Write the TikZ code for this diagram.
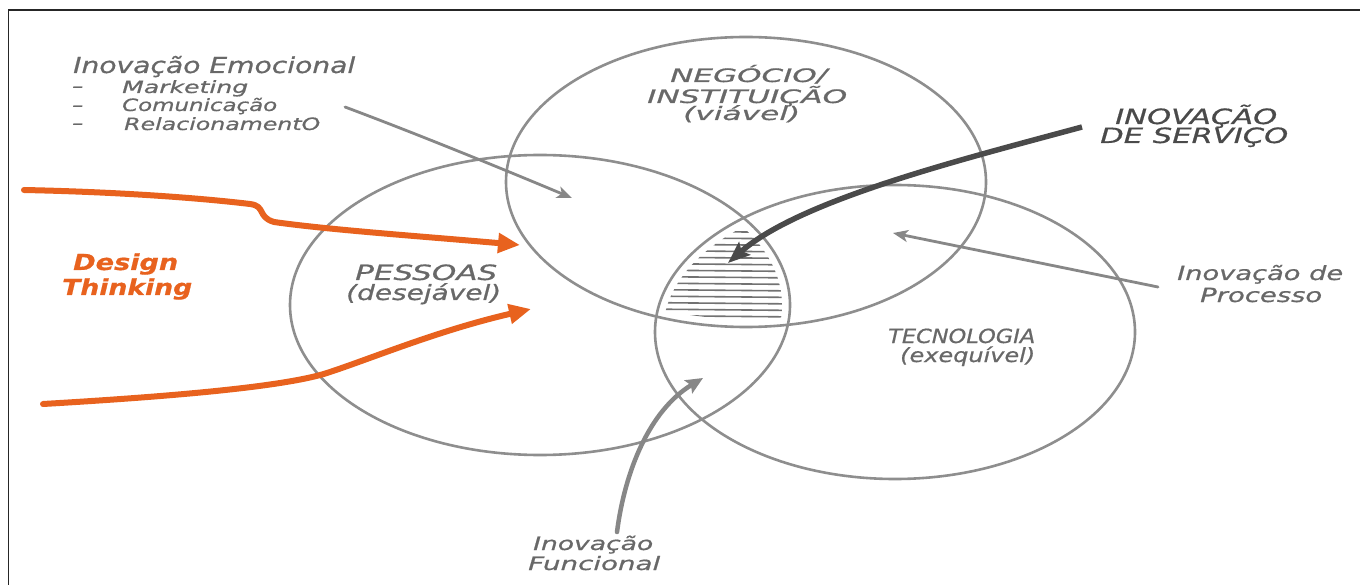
\documentclass[tikz,border=0pt]{standalone}
\usepackage{fontspec}
\usepackage{graphicx}
\setmainfont{DejaVu Sans}
\newfontfamily\handfont[FakeBold=0.6]{DejaVu Sans}
\usetikzlibrary{arrows.meta,shapes.geometric}

\definecolor{ringgray}{HTML}{8E8E8E}
\definecolor{inkgray}{HTML}{686868}
\definecolor{darkink}{HTML}{4A4A4A}
\definecolor{dtorange}{HTML}{E8621E}
\definecolor{hatchgray}{HTML}{727272}

% font size in points, line spacing equal to size
\newcommand{\hs}[1]{\fontsize{#1}{#1}\selectfont}
% stretch a text line horizontally to a given width (pt), height kept
\newcommand{\fitw}[2]{\resizebox{#1pt}{\height}{#2}}

\tikzset{
  lbl/.style={anchor=base west, inner sep=0pt, text=inkgray, font=\handfont\itshape},
  darklbl/.style={lbl, text=darkink},
  dtlbl/.style={lbl, text=dtorange, font=\handfont\itshape\bfseries},
  ring/.style={draw=ringgray, line width=2.6pt, ellipse, inner sep=0pt},
  thinarrow/.style={draw=ringgray!95!black, line width=2.8pt, line cap=round,
    -{Stealth[length=15pt,width=12pt,inset=4pt]}},
  funarrow/.style={draw=ringgray!95!black, line width=4.5pt, line cap=round,
    -{Stealth[length=17pt,width=15pt,inset=3pt]}},
  servarrow/.style={draw=darkink, line width=5.5pt,
    -{Stealth[length=22pt,width=17pt,inset=4pt]}},
  dtarrow/.style={draw=dtorange, line width=6pt, line cap=round, line join=round,
    -{Triangle[length=22pt,width=19pt]}},
  hatch/.style={draw=hatchgray, line width=1.6pt, line cap=round},
  frame/.style={draw=black!85, line width=1.8pt}
}

\begin{document}
\begin{tikzpicture}[x=1pt,y=-1pt]
  \useasboundingbox (0,0) rectangle (1360,585);
  \fill[white] (0,0) rectangle (1360,585);
  \draw[frame] (8.5,585) -- (8.5,10) -- (1360,10);

  % the three sets
  \node[ring, minimum width=480pt, minimum height=290pt] (neg) at (746,182) {};
  \node[ring, minimum width=500pt, minimum height=300pt] (pes) at (540,305) {};
  \node[ring, minimum width=480pt, minimum height=294pt] (tec) at (895,332) {};

  % hatched common area of the three sets
  \begin{scope}
    \clip (746,182) ellipse [x radius=232pt, y radius=137pt];
    \clip (540,305) ellipse [x radius=242pt, y radius=143pt];
    \clip (895,332) ellipse [x radius=232pt, y radius=139pt];
    \foreach \yy in {231,237.5,...,323}
      \draw[hatch] (640,\yy) -- (800,{\yy+1.5});
  \end{scope}

  % labels of the sets
  \node[lbl] (neg1) at (670,82)  {\hs{18.5}\fitw{157}{NEGÓCIO/}};
  \node[lbl] (neg2) at (647,103) {\hs{18.5}\fitw{200}{INSTITUIÇÃO}};
  \node[lbl] (neg3) at (683,120) {\hs{18.5}\fitw{117}{(viável)}};
  \node[lbl] (pes1) at (355,280) {\hs{21}\fitw{142}{PESSOAS}};
  \node[lbl] (pes2) at (346,300) {\hs{21}\fitw{155}{(desejável)}};
  \node[lbl] (tec1) at (888,343) {\hs{19.5}\fitw{147}{TECNOLOGIA}};
  \node[lbl] (tec2) at (900,362) {\hs{19.5}\fitw{135}{(exequível)}};

  % emotional innovation
  \node[lbl] (emo)  at (73,73)   {\hs{22}\fitw{282}{Inovação Emocional}};
  \node[lbl] (emd1) at (72,92)   {\hs{17}\fitw{11}{–}};
  \node[lbl] (emd2) at (72,111)  {\hs{17}\fitw{11}{–}};
  \node[lbl] (emd3) at (72,129)  {\hs{17}\fitw{11}{–}};
  \node[lbl] (mkt)  at (122,93)  {\hs{17}\fitw{126}{Marketing}};
  \node[lbl] (com)  at (122,111) {\hs{17}\fitw{155}{Comunicação}};
  \node[lbl] (rel)  at (124,130) {\hs{17}\fitw{196}{RelacionamentO}};

  % service innovation
  \node[darklbl] (srv1) at (1115,124) {\hs{21}\fitw{162}{INOVAÇÃO}};
  \node[darklbl] (srv2) at (1100,143) {\hs{21}\fitw{188}{DE SERVIÇO}};

  % process innovation
  \node[lbl] (prc1) at (1177,280) {\hs{19.5}\fitw{166}{Inovação de}};
  \node[lbl] (prc2) at (1200,302) {\hs{19.5}\fitw{122}{Processo}};

  % functional innovation
  \node[lbl] (fun1) at (533,550) {\hs{18.5}\fitw{120}{Inovação}};
  \node[lbl] (fun2) at (528,570) {\hs{18.5}\fitw{132}{Funcional}};

  % design thinking
  \node[dtlbl] (dt1) at (73,270) {\hs{22}\fitw{105}{Design}};
  \node[dtlbl] (dt2) at (62,295) {\hs{22}\fitw{130}{Thinking}};

  % arrow ends
  \coordinate (emoS) at (345,107);
  \coordinate (emoT) at (572,198);
  \coordinate (prcS) at (1158,287);
  \coordinate (prcT) at (893,233);
  \coordinate (funS) at (617,532);
  \coordinate (funT) at (703,378);
  \coordinate (srvS) at (1082,127);
  \coordinate (srvT) at (728,263);
  \coordinate (dtaS) at (24,190);
  \coordinate (dtaT) at (520,245);
  \coordinate (dtbS) at (43,404);
  \coordinate (dtbT) at (531,309);

  % connectors
  \draw[thinarrow] (emoS) .. controls (420,135) and (510,172) .. (emoT);
  \draw[thinarrow] (prcS) -- (prcT);
  \draw[funarrow] (funS) .. controls (625,470) and (650,410) .. (funT);
  \draw[servarrow] (srvS) .. controls (960,160) and (800,200) .. (srvT);
  \draw[dtarrow] (dtaS) .. controls (120,192) and (200,198) .. (250,204)
    .. controls (266,206) and (257,217) .. (274,222)
    .. controls (330,230) and (430,237) .. (dtaT);
  \draw[dtarrow] (dtbS) .. controls (180,396) and (290,386) .. (330,372)
    .. controls (375,357) and (440,330) .. (dtbT);
\end{tikzpicture}
\end{document}
